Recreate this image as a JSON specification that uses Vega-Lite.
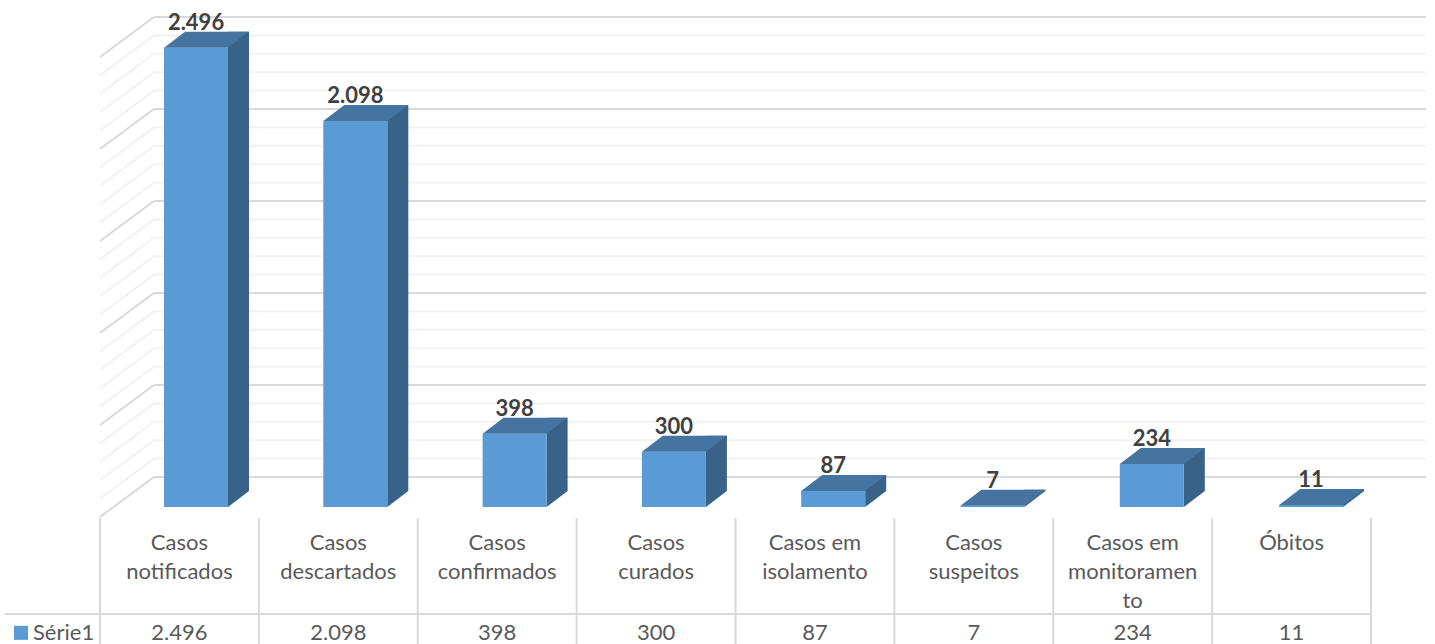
{"$schema":"https://vega.github.io/schema/vega-lite/v6.json","width":1271,"height":644,"autosize":"none","padding":{"left":100,"top":0,"right":64,"bottom":0},"background":"#ffffff","config":{"view":{"stroke":null},"axis":{"disable":true},"legend":{"disable":true},"text":{"font":"Lato"}},
"datasets":{"casos":[{"categoria":"Casos notificados","rotulo":"Casos|notificados","valor":2496,"texto":"2.496"},{"categoria":"Casos descartados","rotulo":"Casos|descartados","valor":2098,"texto":"2.098"},{"categoria":"Casos confirmados","rotulo":"Casos|confirmados","valor":398,"texto":"398"},{"categoria":"Casos curados","rotulo":"Casos|curados","valor":300,"texto":"300"},{"categoria":"Casos em isolamento","rotulo":"Casos em|isolamento","valor":87,"texto":"87"},{"categoria":"Casos suspeitos","rotulo":"Casos|suspeitos","valor":7,"texto":"7"},{"categoria":"Casos em monitoramento","rotulo":"Casos em|monitoramen|to","valor":234,"texto":"234"},{"categoria":"Óbitos","rotulo":"Óbitos","valor":11,"texto":"11"}],
"menores":[{"v":100},{"v":200},{"v":300},{"v":400},{"v":600},{"v":700},{"v":800},{"v":900},{"v":1100},{"v":1200},{"v":1300},{"v":1400},{"v":1600},{"v":1700},{"v":1800},{"v":1900},{"v":2100},{"v":2200},{"v":2300},{"v":2400}],
"maiores":[{"v":0},{"v":500},{"v":1000},{"v":1500},{"v":2000},{"v":2500}]},
"resolve":{"scale":{"x":"independent"}},
"layer":[
{"layer":[
{"data":{"name":"menores"},"mark":{"type":"rule","color":"#f2f2f2","strokeWidth":2,"xOffset":54,"x2Offset":55},"encoding":{"x":{"datum":"Casos notificados","type":"nominal","bandPosition":0,"scale":{"type":"band","paddingInner":0,"paddingOuter":0,"domain":["Casos notificados","Casos descartados","Casos confirmados","Casos curados","Casos em isolamento","Casos suspeitos","Casos em monitoramento","Óbitos"]}},"x2":{"datum":"Óbitos","bandPosition":1},"y":{"field":"v","type":"quantitative","scale":{"domain":[-907.6,2592.4],"nice":false,"zero":false}}}},
{"data":{"name":"menores"},"mark":{"type":"point","shape":"M54,0L0,40","size":4,"filled":false,"stroke":"#f2f2f2","strokeWidth":2,"opacity":1},"encoding":{"x":{"datum":"Casos notificados","type":"nominal","bandPosition":0,"scale":{"type":"band","paddingInner":0,"paddingOuter":0,"domain":["Casos notificados","Casos descartados","Casos confirmados","Casos curados","Casos em isolamento","Casos suspeitos","Casos em monitoramento","Óbitos"]}},"y":{"field":"v","type":"quantitative","scale":{"domain":[-907.6,2592.4],"nice":false,"zero":false}}}},
{"data":{"name":"maiores"},"mark":{"type":"rule","color":"#d9d9d9","strokeWidth":2,"xOffset":54,"x2Offset":55},"encoding":{"x":{"datum":"Casos notificados","type":"nominal","bandPosition":0,"scale":{"type":"band","paddingInner":0,"paddingOuter":0,"domain":["Casos notificados","Casos descartados","Casos confirmados","Casos curados","Casos em isolamento","Casos suspeitos","Casos em monitoramento","Óbitos"]}},"x2":{"datum":"Óbitos","bandPosition":1},"y":{"field":"v","type":"quantitative","scale":{"domain":[-907.6,2592.4],"nice":false,"zero":false}}}},
{"data":{"name":"maiores"},"mark":{"type":"point","shape":"M54,0L0,40","size":4,"filled":false,"stroke":"#d9d9d9","strokeWidth":2,"opacity":1},"encoding":{"x":{"datum":"Casos notificados","type":"nominal","bandPosition":0,"scale":{"type":"band","paddingInner":0,"paddingOuter":0,"domain":["Casos notificados","Casos descartados","Casos confirmados","Casos curados","Casos em isolamento","Casos suspeitos","Casos em monitoramento","Óbitos"]}},"y":{"field":"v","type":"quantitative","scale":{"domain":[-907.6,2592.4],"nice":false,"zero":false}}}},
{"data":{"name":"casos"},"mark":{"type":"rule","color":"#d9d9d9","strokeWidth":2},"encoding":{"x":{"field":"categoria","type":"nominal","bandPosition":0,"scale":{"type":"band","paddingInner":0,"paddingOuter":0,"domain":["Casos notificados","Casos descartados","Casos confirmados","Casos curados","Casos em isolamento","Casos suspeitos","Casos em monitoramento","Óbitos"]}},"y":{"datum":-223,"scale":{"domain":[-907.6,2592.4],"nice":false,"zero":false}},"y2":{"datum":-907.6}}},
{"data":{"values":[{"categoria":"Óbitos"}]},"mark":{"type":"rule","color":"#d9d9d9","strokeWidth":2},"encoding":{"x":{"field":"categoria","type":"nominal","bandPosition":1,"scale":{"type":"band","paddingInner":0,"paddingOuter":0,"domain":["Casos notificados","Casos descartados","Casos confirmados","Casos curados","Casos em isolamento","Casos suspeitos","Casos em monitoramento","Óbitos"]}},"y":{"datum":-223,"scale":{"domain":[-907.6,2592.4],"nice":false,"zero":false}},"y2":{"datum":-907.6}}},
{"data":{"values":[{"linha":"divisa"}]},"mark":{"type":"rule","color":"#d9d9d9","strokeWidth":2,"xOffset":-95},"encoding":{"x":{"datum":"Casos notificados","type":"nominal","bandPosition":0,"scale":{"type":"band","paddingInner":0,"paddingOuter":0,"domain":["Casos notificados","Casos descartados","Casos confirmados","Casos curados","Casos em isolamento","Casos suspeitos","Casos em monitoramento","Óbitos"]}},"x2":{"datum":"Óbitos","bandPosition":1},"y":{"datum":-745,"scale":{"domain":[-907.6,2592.4],"nice":false,"zero":false}}}},
{"data":{"name":"casos"},"mark":{"type":"text","lineBreak":"|","lineHeight":29,"baseline":"top","align":"center","fontSize":22,"color":"#595959"},"encoding":{"x":{"field":"categoria","type":"nominal","scale":{"type":"band","paddingInner":0,"paddingOuter":0,"domain":["Casos notificados","Casos descartados","Casos confirmados","Casos curados","Casos em isolamento","Casos suspeitos","Casos em monitoramento","Óbitos"]}},"y":{"datum":-302,"scale":{"domain":[-907.6,2592.4],"nice":false,"zero":false}},"text":{"field":"rotulo"}}},
{"data":{"name":"casos"},"mark":{"type":"text","baseline":"middle","align":"center","fontSize":22,"color":"#595959"},"encoding":{"x":{"field":"categoria","type":"nominal","scale":{"type":"band","paddingInner":0,"paddingOuter":0,"domain":["Casos notificados","Casos descartados","Casos confirmados","Casos curados","Casos em isolamento","Casos suspeitos","Casos em monitoramento","Óbitos"]}},"y":{"datum":-847,"scale":{"domain":[-907.6,2592.4],"nice":false,"zero":false}},"text":{"field":"texto"}}},
{"data":{"values":[{"serie":"Série1"}]},"mark":{"type":"text","baseline":"middle","align":"left","fontSize":22,"color":"#595959","xOffset":-67},"encoding":{"x":{"datum":"Casos notificados","type":"nominal","bandPosition":0,"scale":{"type":"band","paddingInner":0,"paddingOuter":0,"domain":["Casos notificados","Casos descartados","Casos confirmados","Casos curados","Casos em isolamento","Casos suspeitos","Casos em monitoramento","Óbitos"]}},"y":{"datum":-847,"scale":{"domain":[-907.6,2592.4],"nice":false,"zero":false}},"text":{"field":"serie"}}},
{"data":{"values":[{"serie":"Série1"}]},"mark":{"type":"point","shape":"square","filled":true,"size":196,"color":"#5b9bd5","opacity":1,"xOffset":-79},"encoding":{"x":{"datum":"Casos notificados","type":"nominal","bandPosition":0,"scale":{"type":"band","paddingInner":0,"paddingOuter":0,"domain":["Casos notificados","Casos descartados","Casos confirmados","Casos curados","Casos em isolamento","Casos suspeitos","Casos em monitoramento","Óbitos"]}},"y":{"datum":-847,"scale":{"domain":[-907.6,2592.4],"nice":false,"zero":false}}}}
]},
{"data":{"name":"casos"},"encoding":{"x":{"field":"categoria","type":"nominal","scale":{"type":"band","paddingInner":0,"paddingOuter":0,"range":[16.35,1290.75],"domain":["Casos notificados","Casos descartados","Casos confirmados","Casos curados","Casos em isolamento","Casos suspeitos","Casos em monitoramento","Óbitos"]}}},"layer":[
{"mark":{"type":"bar","size":21,"color":"#386288","xOffset":42.5,"yOffset":14,"y2Offset":14},"encoding":{"y":{"field":"valor","type":"quantitative","scale":{"domain":[-907.6,2592.4],"nice":false,"zero":false}},"y2":{"datum":0}}},
{"mark":{"type":"point","shape":"M0,0L0,-16L21,-16Z","size":4,"filled":true,"strokeWidth":0,"color":"#386288","opacity":1,"xOffset":32,"yOffset":30},"encoding":{"y":{"datum":0,"scale":{"domain":[-907.6,2592.4],"nice":false,"zero":false}}}},
{"mark":{"type":"bar","size":64,"color":"#5b9bd5","yOffset":30,"y2Offset":30},"encoding":{"y":{"field":"valor","type":"quantitative","scale":{"domain":[-907.6,2592.4],"nice":false,"zero":false}},"y2":{"datum":0}}},
{"mark":{"type":"point","shape":"M-32,0L32,0L53,-16L-11,-16Z","size":4,"filled":true,"strokeWidth":0,"color":"#44749f","opacity":1,"yOffset":30},"encoding":{"y":{"field":"valor","type":"quantitative","scale":{"domain":[-907.6,2592.4],"nice":false,"zero":false}}}},
{"mark":{"type":"text","baseline":"middle","align":"center","fontSize":22,"fontWeight":"bold","color":"#404040","xOffset":0,"yOffset":5},"encoding":{"y":{"field":"valor","type":"quantitative","scale":{"domain":[-907.6,2592.4],"nice":false,"zero":false}},"text":{"field":"texto"}}}
]}
]}
